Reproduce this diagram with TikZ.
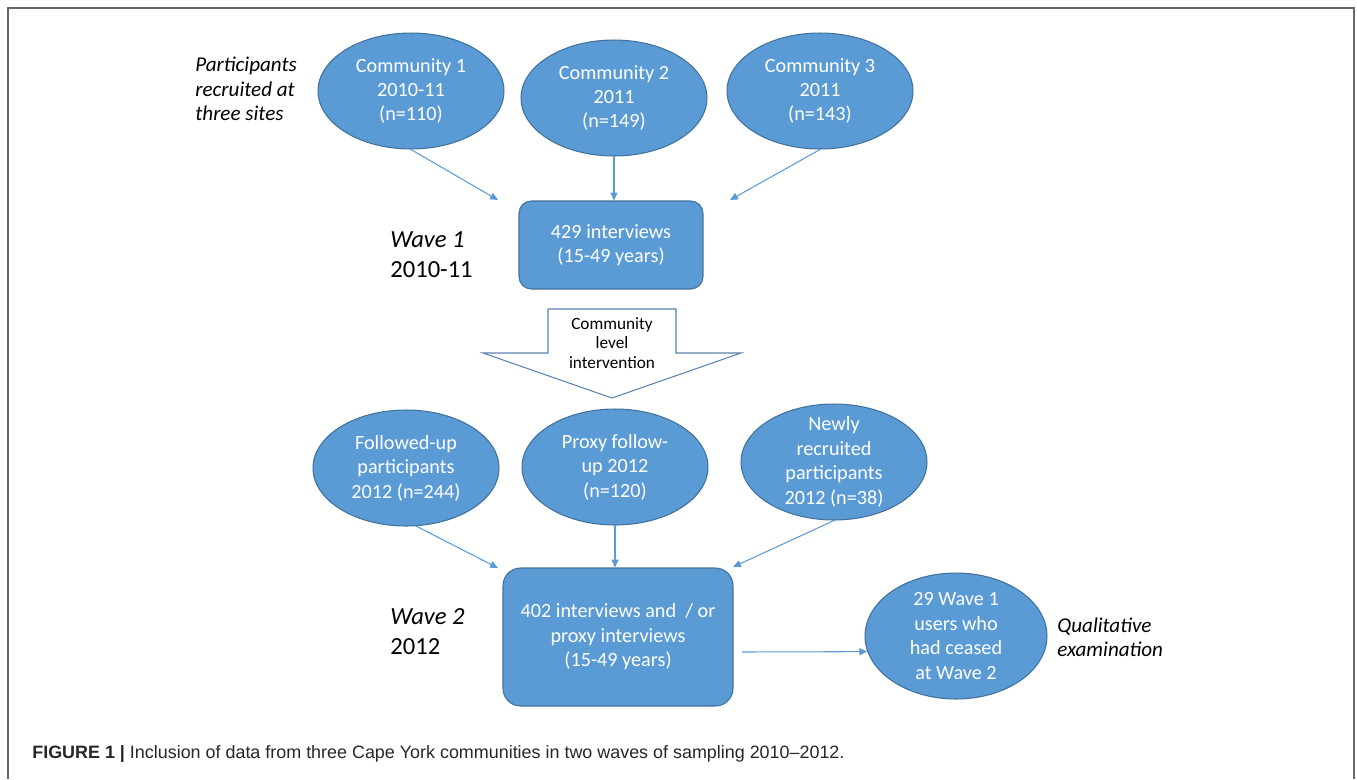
\documentclass[tikz,border=0pt]{standalone}
\usepackage{fontspec}
\setmainfont{Carlito}
\newfontfamily\capfont{Liberation Sans}
\usepackage{tikz}
\usetikzlibrary{shapes.geometric,positioning,arrows.meta}
\definecolor{boxblue}{HTML}{5B9BD5}
\definecolor{edgeblue}{HTML}{41719C}
\definecolor{outline}{HTML}{5B82B0}
\tikzset{
  site/.style={ellipse,fill=boxblue,draw=edgeblue,line width=0.6pt,text=white,align=center,
    minimum width=3.72cm,minimum height=2.32cm,inner xsep=0pt,inner ysep=-3pt,
    font=\fontsize{11.5}{13.9}\selectfont},
  wavebox/.style={rectangle,rounded corners=7pt,fill=boxblue,draw=edgeblue,line width=0.6pt,
    text=white,align=center,font=\fontsize{11.5}{13.9}\selectfont},
  side/.style={anchor=west,align=left,inner sep=0pt,font=\itshape\fontsize{12}{13.8}\selectfont},
  wavelbl/.style={anchor=west,align=left,inner sep=0pt,font=\fontsize{14}{17}\selectfont},
  flow/.style={color=boxblue,line width=0.6pt},
  >={Triangle[length=4.5pt,width=4pt]},
}

\begin{document}
\begin{tikzpicture}[x=0.02cm,y=-0.02cm]
  \useasboundingbox (0,0) rectangle (1357,779);
  \draw[gray!80!black,line width=0.6pt] (8,779) -- (8,8) -- (1354,8) -- (1354,779);

  % wave 1
  \node[side] (sites) at (195,89) {Participants\\recruited at\\three sites};
  \node[site] (c1) at (411,91) {Community 1\\2010-11\\(n=110)};
  \node[site] (c2) at (614,98) {Community 2\\2011\\(n=149)};
  \node[site] (c3) at (820,91) {Community 3\\2011\\(n=143)};
  \node[wavebox,minimum width=3.68cm,minimum height=1.76cm] (w1) at (611,245)
    {429 interviews\\(15-49 years)};
  \node[wavelbl] (wave1) at (390,255) {\textit{Wave 1}\\2010-11};
  \coordinate (w1l) at (498,200);
  \coordinate (w1r) at (730,200);

  % intervention
  \draw[outline,line width=0.6pt,fill=white] (548,309) -- (676,309) -- (676,353) -- (741,353)
    -- (612,398) -- (483,353) -- (548,353) -- cycle;
  \node[align=center,font=\fontsize{9.8}{11.3}\selectfont] (interv) at (612,343)
    {Community\\level\\intervention};

  % wave 2
  \node[site] (fu) at (406,468) {Followed-up\\participants\\2012 (n=244)};
  \node[site] (px) at (615,467) {Proxy follow-\\up 2012\\(n=120)};
  \node[site] (nr) at (834,462) {Newly\\recruited\\participants\\2012 (n=38)};
  \node[wavebox,rounded corners=10pt,minimum width=4.6cm,minimum height=2.76cm] (w2) at (618,637)
    {402 interviews and~ / or\\proxy interviews\\(15-49 years)};
  \node[wavelbl] (wave2) at (390,632) {\textit{Wave 2}\\2012};
  \node[site,minimum width=3.64cm,minimum height=2.52cm] (ceased) at (956,636)
    {29 Wave 1\\users who\\had ceased\\at Wave 2};
  \node[side] (qual) at (1057,637) {Qualitative\\examination};
  \coordinate (w2l) at (498,568);
  \coordinate (w2r) at (733,567);
  \coordinate (w2o) at (742,652);

  \path[->,flow]
    (c1.south) edge (w1l)
    (c2.south) edge (c2.south |- w1.north)
    (c3.south) edge (w1r)
    (fu.-80)   edge (w2l)
    (px.south) edge (px.south |- w2.north)
    (nr.south) edge (w2r);
  \draw[->,flow] (w2o) -- (ceased.190);

  \node[anchor=base west,inner sep=0pt,text=black!85,font=\capfont\fontsize{10.2}{12}\selectfont] (caption) at (32,758)
    {\textbf{FIGURE 1 |} Inclusion of data from three Cape York communities in two waves of sampling 2010–2012.};
\end{tikzpicture}
\end{document}
